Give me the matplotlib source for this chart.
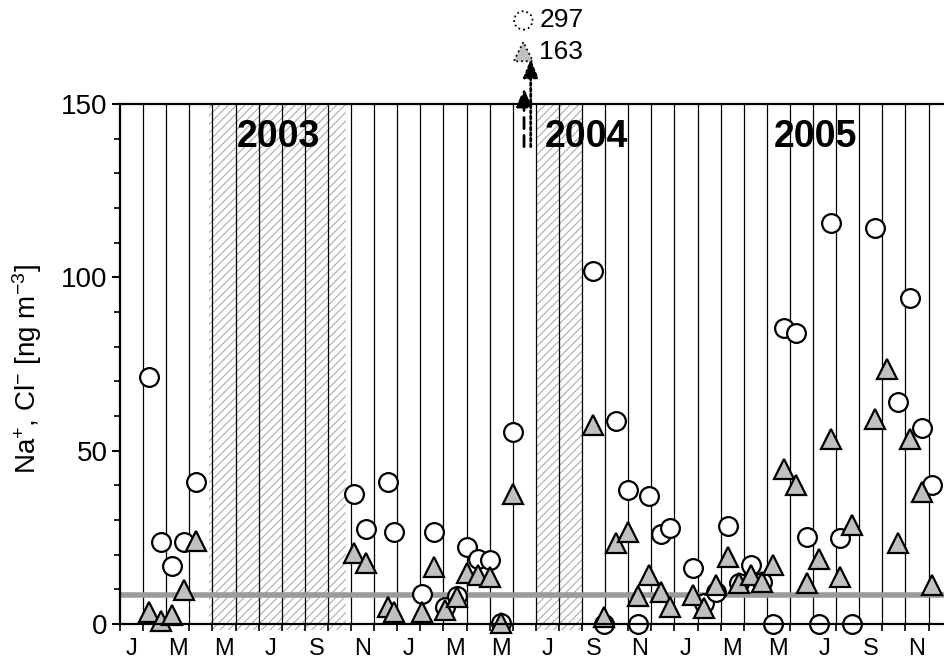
import numpy as np
import matplotlib
matplotlib.use('Agg')
import matplotlib.pyplot as plt
from matplotlib.ticker import MultipleLocator

plt.rcParams['font.family'] = ['Liberation Sans', 'DejaVu Sans']
plt.rcParams['mathtext.fontset'] = 'custom'
plt.rcParams['mathtext.rm'] = 'Liberation Sans'
plt.rcParams['mathtext.it'] = 'Liberation Sans:italic'
plt.rcParams['hatch.linewidth'] = 0.8

# sampling time in months since Jan 2003
months = [1.26, 1.77, 2.27, 2.78, 3.28,
          10.14, 10.65, 11.58, 11.84,
          13.08, 13.6, 14.07, 14.6, 15.0, 15.5, 16.0, 16.5, 17.0,
          20.46, 20.96, 21.46, 21.97, 22.44, 22.9, 23.4, 23.8,
          24.8, 25.3, 25.8, 26.3, 26.8, 27.3, 27.8,
          28.25, 28.76, 29.25, 29.75, 30.25, 30.76, 31.17, 31.68,
          32.69, 33.19, 33.7, 34.2, 34.7, 35.13]
# circles
cl = [71.3, 23.7, 16.6, 23.7, 41.0,
      37.4, 27.5, 41.0, 26.4,
      8.7, 26.4, 4.8, 8.2, 22.3, 18.8, 18.5, 0.2, 55.3,
      101.9, 0, 58.7, 38.7, 0, 36.9, 25.9, 27.8,
      16.1, 6.0, 9.3, 28.3, 11.9, 17.0, 12.2,
      0, 85.3, 84.0, 25.2, 0, 115.8, 24.7, 0,
      114.2, np.nan, 64.0, 94.0, 56.5, 40.1]
# triangles
na = [3.5, 1.0, 2.6, 9.8, 24.0,
      20.4, 17.5, 4.8, 3.6,
      3.6, 16.3, 4.0, 7.9, 14.6, 14.1, 13.6, 0.4, 37.5,
      57.4, 2.1, 23.3, 26.6, 8.1, 14.1, 9.3, 4.8,
      8.4, 4.5, 11.2, 19.4, 11.7, 14.1, 12.2,
      17.0, 44.6, 40.1, 11.7, 18.7, 53.3, 13.5, 28.6,
      59.1, 73.5, 23.5, 53.3, 38.2, 11.2]

month_labels = ['J', 'M', 'M', 'J', 'S', 'N'] * 3
years = ['2003', '2004', '2005']
year_pos = [6.84, 20.2, 30.1]
gaps = [(3.85, 9.78), (18.05, 20.04)]
baseline = 8.4

# off-scale sample (Jun 2004)
out_month = 17.46
out_cl = 297
out_na = 163
arrow_cl_x, arrow_na_x = 17.49, 17.78
arrow_base, arrow_cl_tip = 137.7, 154.6

fig = plt.figure(figsize=(9.44, 6.67), dpi=100)
ax = fig.add_axes([120 / 944, 1 - 624 / 667, 1 - 120 / 944, 520 / 667])
ax.set_xlim(0, 35.67)
ax.set_ylim(0, 150)

for a, b in gaps:
    ax.axvspan(a, b, ymin=-0.0115, ymax=1, facecolor='white', edgecolor='#ababab',
               hatch='////', lw=0, zorder=1, clip_on=False)
ax.vlines(np.arange(1, 36), 0, 150, color='black', lw=0.9, zorder=2)
ax.axhline(baseline, color='#9b9b9b', lw=4, zorder=3)

ax.plot(months, cl, 'o', ms=13.5, mfc='white', mec='black', mew=1.6,
        clip_on=False, zorder=4)
ax.plot(months, na, '^', ms=14, mfc='#c0c0c0', mec='black', mew=1.6,
        clip_on=False, zorder=5)

for yr, xp in zip(years, year_pos):
    ax.text(xp, 140.5, yr, fontsize=27, fontweight='bold', ha='center',
            va='center', zorder=6)

# arrows for the off-scale values
ax.annotate('', xy=(arrow_cl_x, arrow_cl_tip), xytext=(arrow_cl_x, arrow_base),
            arrowprops=dict(arrowstyle='-|>,head_width=0.45,head_length=1.1',
                            linestyle=(0, (4, 2.5)), lw=2, color='black',
                            shrinkA=0, shrinkB=0, mutation_scale=10),
            annotation_clip=False, zorder=7)
ax.annotate('', xy=(arrow_na_x, out_na), xytext=(arrow_na_x, arrow_base),
            arrowprops=dict(arrowstyle='-|>,head_width=0.45,head_length=1.1',
                            linestyle=(0, (1, 1)), lw=2, color='black',
                            shrinkA=0, shrinkB=0, mutation_scale=10),
            annotation_clip=False, zorder=7)
ax.scatter([out_month], [174.1], s=175, marker='o', facecolor='white',
           edgecolor='black', linestyle=':', lw=1.3, clip_on=False, zorder=7)
ax.scatter([out_month], [165.1], s=190, marker='^', facecolor='#c0c0c0',
           edgecolor='black', linestyle=':', lw=1.3, clip_on=False, zorder=7)
ax.text(18.15, 174.1, str(out_cl), fontsize=19, ha='left', va='center',
        clip_on=False)
ax.text(18.15, 165.1, str(out_na), fontsize=19, ha='left', va='center',
        clip_on=False)

ax.set_yticks([0, 50, 100, 150])
ax.yaxis.set_minor_locator(MultipleLocator(10))
ax.tick_params(axis='y', which='major', direction='out', length=6, width=1.5,
               labelsize=20, pad=3)
ax.tick_params(axis='y', which='minor', direction='out', length=4, width=1.2)

ax.set_xticks(np.arange(0.5, 36, 2))
ax.set_xticklabels(month_labels)
ax.set_xticks(np.arange(0, 36), minor=True)
ax.tick_params(axis='x', which='major', length=0, labelsize=17, pad=10)
ax.tick_params(axis='x', which='minor', direction='out', length=5, width=1.2)

for s in ['left', 'bottom', 'top']:
    ax.spines[s].set_linewidth(1.6)
    ax.spines[s].set_zorder(8)
ax.spines['right'].set_visible(False)

ax.set_ylabel('Na$^{+}$, Cl$^{-}$ [ng m$^{-3}$]', fontsize=20)
ax.yaxis.set_label_coords(-(120 - 44) / 824, 0.49)

fig.savefig('out.png', dpi=100)
